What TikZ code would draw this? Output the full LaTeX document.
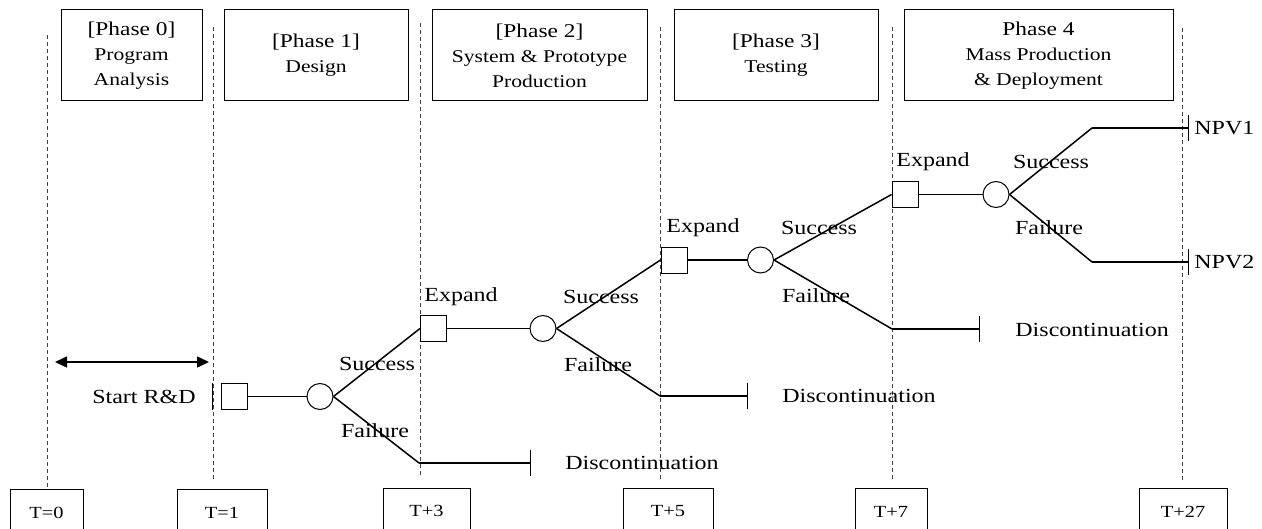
\documentclass[tikz,border=0pt]{standalone}
\usepackage{fontspec}
\setmainfont{Liberation Serif}[FakeStretch=1.2]
\usetikzlibrary{arrows.meta}
\tikzset{
  phasebox/.style={draw, line width=0.5pt, align=center, inner sep=0pt, font=\fontsize{9}{12.5}\selectfont},
  timebox/.style={draw, line width=0.5pt, inner sep=0pt, minimum height=23.5pt, font=\fontsize{8.5}{10}\selectfont},
  decision/.style={draw, line width=0.5pt, minimum size=13pt, inner sep=0pt},
  chance/.style={draw, circle, line width=0.5pt, minimum size=13pt, inner sep=0pt},
  lbl/.style={inner sep=0pt, font=\fontsize{10}{12}\selectfont},
  branch/.style={line width=0.75pt},
  stopbar/.style={branch, -{Bar[width=13pt, line width=0.5pt]}},
  timeline/.style={line width=0.5pt, black!75, dash pattern=on 2pt off 1.5pt},
}
\begin{document}
\begin{tikzpicture}[x=0.5pt, y=-0.5pt]
    \useasboundingbox (0,0) rectangle (1262,529);
    % phases
    \node [phasebox, minimum width=70.5pt, minimum height=45.5pt] (ph0) at (131.5,55.5) {{\fontsize{9.75}{12.5}\selectfont [Phase 0]}\\Program\\Analysis};
    \node [phasebox, minimum width=92pt, minimum height=45.5pt] (ph1) at (316,55.5) {{\fontsize{9.75}{12.5}\selectfont [Phase 1]}\\Design};
    \node [phasebox, minimum width=107.5pt, minimum height=45.5pt] (ph2) at (539.5,55.5) {{\fontsize{9.75}{12.5}\selectfont [Phase 2]}\\System \& Prototype\\Production};
    \node [phasebox, minimum width=102pt, minimum height=45.5pt] (ph3) at (776,55.5) {{\fontsize{9.75}{12.5}\selectfont [Phase 3]}\\Testing};
    \node [phasebox, minimum width=134.5pt, minimum height=45.5pt] (ph4) at (1038.5,55.5) {{\fontsize{9.75}{12.5}\selectfont Phase 4}\\Mass Production\\\& Deployment};
    % time marks
    \node [timebox, minimum width=36.5pt] (t0) at (46.5,513) {T=0};
    \node [timebox, minimum width=45pt] (t1) at (222,513) {T=1};
    \node [timebox, minimum width=43.5pt, minimum height=23pt] (t3) at (426.5,511) {T+3};
    \node [timebox, minimum width=45pt] (t5) at (668,511.5) {T+5};
    \node [timebox, minimum width=36pt] (t7) at (891,511.5) {T+7};
    \node [timebox, minimum width=44pt] (t27) at (1183,511.5) {T+27};
    \draw [timeline] (47,35) -- (47,490);
    \draw [timeline] (213,27) -- (213,480);
    \draw [timeline] (420,23) -- (420,478);
    \draw [timeline] (660,27) -- (660,480);
    \draw [timeline] (892,27) -- (892,480);
    \draw [timeline] (1182,28) -- (1182,482);
    % analysis period
    \coordinate (arrL) at (55,362);
    \coordinate (arrR) at (209,362);
    \draw [line width=0.75pt, {Triangle[length=6pt, width=5.5pt]}-{Triangle[length=6pt, width=5.5pt]}] (arrL) -- (arrR);
    % tree nodes
    \node [decision] (dec0) at (234.5,396.5) {};
    \node [chance] (ch1) at (320,396.5) {};
    \node [decision] (dec1) at (433.5,328.5) {};
    \node [chance] (ch2) at (543,328.5) {};
    \node [decision] (dec2) at (674,260) {};
    \node [chance] (ch3) at (760.5,260) {};
    \node [decision] (dec3) at (905,194.5) {};
    \node [chance] (ch4) at (996,194.5) {};
    \coordinate (fail1) at (419,463);
    \coordinate (stop1) at (531,463);
    \coordinate (fail2) at (660,396);
    \coordinate (stop2) at (748,396);
    \coordinate (fail3) at (892,329);
    \coordinate (stop3) at (980,329);
    \coordinate (win4) at (1092,128);
    \coordinate (end4a) at (1189,128);
    \coordinate (fail4) at (1092,262);
    \coordinate (end4b) at (1189,262);
    \draw [line width=0.5pt] (212,383) -- (212,410);
    % branches
    \draw [branch] (dec0) -- (ch1);
    \draw [branch] (ch1.east) -- (dec1.west);
    \draw [branch] (ch1.east) -- (fail1);
    \draw [stopbar] (fail1) -- (stop1);
    \draw [branch] (dec1) -- (ch2);
    \draw [branch] (ch2.east) -- (dec2.west);
    \draw [branch] (ch2.east) -- (fail2);
    \draw [stopbar] (fail2) -- (stop2);
    \draw [branch] (dec2) -- (ch3);
    \draw [branch] (ch3.east) -- (dec3.west);
    \draw [branch] (ch3.east) -- (fail3);
    \draw [stopbar] (fail3) -- (stop3);
    \draw [branch] (dec3) -- (ch4);
    \draw [branch] (ch4.east) -- (win4);
    \draw [stopbar] (win4) -- (end4a);
    \draw [branch] (ch4.east) -- (fail4);
    \draw [stopbar] (fail4) -- (end4b);
    % labels
    \node [lbl, anchor=east] (start) at (196,397) {Start R\&D};
    \node [lbl] (suc1) at (377,364) {Success};
    \node [lbl] (fl1) at (375,431) {Failure};
    \node [lbl, anchor=west] (dis1) at (565,463) {Discontinuation};
    \node [lbl, anchor=west] (exp1) at (424,297) {Expand};
    \node [lbl] (suc2) at (601,297) {Success};
    \node [lbl] (fl2) at (598,365) {Failure};
    \node [lbl, anchor=west] (dis2) at (782,396) {Discontinuation};
    \node [lbl, anchor=west] (exp2) at (666,228) {Expand};
    \node [lbl] (suc3) at (819,228) {Success};
    \node [lbl] (fl3) at (816,296) {Failure};
    \node [lbl, anchor=west] (dis3) at (1015,330) {Discontinuation};
    \node [lbl, anchor=west] (exp3) at (896,162) {Expand};
    \node [lbl] (suc4) at (1051,162) {Success};
    \node [lbl] (fl4) at (1049,228) {Failure};
    \node [lbl, anchor=west] (npv1) at (1194,128) {NPV1};
    \node [lbl, anchor=west] (npv2) at (1194,262) {NPV2};
\end{tikzpicture}
\end{document}
